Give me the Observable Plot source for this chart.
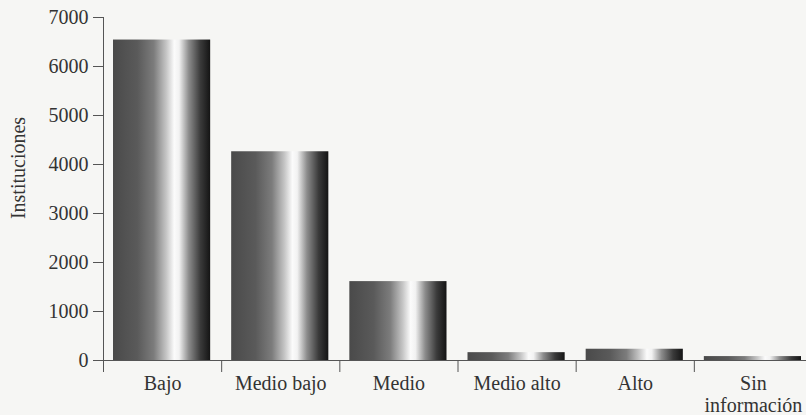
<!DOCTYPE html>
<html>
<head>
<meta charset="utf-8">
<script src="https://cdn.jsdelivr.net/npm/d3@7"></script>
<script src="https://cdn.jsdelivr.net/npm/@observablehq/plot@0.6"></script>
<style>
  html, body { margin: 0; padding: 0; background: #f6f6f4; overflow: hidden; }
</style>
</head>
<body>
<div id="chart"></div>
<script>
// Institutions by socioeconomic level
const categories = ["Bajo", "Medio bajo", "Medio", "Medio alto", "Alto", "Sin\ninformación"];
const institutions = [6540, 4260, 1610, 160, 230, 80];
const yTicks = [0, 1000, 2000, 3000, 4000, 5000, 6000, 7000];
const yLabel = "Instituciones";

const rows = categories.map((category, i) => ({category, index: i, value: institutions[i]}));

// Cylinder-like horizontal shading used by every bar
const shading = () => {
  const defs = d3.create("svg:defs");
  const g = defs.append("linearGradient").attr("id", "cyl")
    .attr("x1", 0).attr("x2", 1).attr("y1", 0).attr("y2", 0);
  [
    [0, "#4a4a4a"], [0.25, "#5a5a5a"], [0.42, "#7c7c7c"], [0.55, "#c6c6c6"],
    [0.63, "#fbfbfb"], [0.68, "#f2f2f2"], [0.78, "#8c8c8c"], [0.9, "#3a3a3a"], [1, "#141414"]
  ].forEach(([o, c]) => g.append("stop").attr("offset", o).attr("stop-color", c));
  return defs.node();
};

const font = "'Liberation Serif', 'DejaVu Serif', serif";

const chart = Plot.plot({
  width: 806,
  height: 415,
  marginLeft: 103,
  marginRight: -6,
  marginTop: 17,
  marginBottom: 55,
  style: {fontFamily: font, fontSize: "20px", background: "transparent", color: "#333", overflow: "visible"},
  x: {domain: [0, categories.length], axis: null},
  y: {domain: [0, 7000], axis: null},
  marks: [
    shading,
    Plot.rectY(rows, {x1: "index", x2: d => d.index + 1, y: "value", fill: "url(#cyl)", insetLeft: 10, insetRight: 11}),
    Plot.ruleY([0], {stroke: "#555", strokeWidth: 1}),
    Plot.ruleX([0], {stroke: "#555", strokeWidth: 1}),
    Plot.axisY(yTicks, {tickSize: 10, tickPadding: 5, stroke: "#555", fontSize: 20, tickFormat: d3.format("d"), label: null}),
    Plot.axisX(d3.range(categories.length + 1), {tickSize: 12, tickFormat: () => "", stroke: "#555", label: null}),
    Plot.axisX(categories.map((c, i) => i + 0.5), {
      tickSize: 0, tickPadding: 14, tickFormat: v => categories[Math.floor(v)],
      fontSize: 20, lineHeight: 1.1, label: null
    }),
    Plot.text([yLabel], {frameAnchor: "left", textAnchor: "middle", rotate: -90, dx: -85, dy: -21, fontSize: 20, fill: "#333"})
  ]
});

document.getElementById("chart").append(chart);
</script>
</body>
</html>
